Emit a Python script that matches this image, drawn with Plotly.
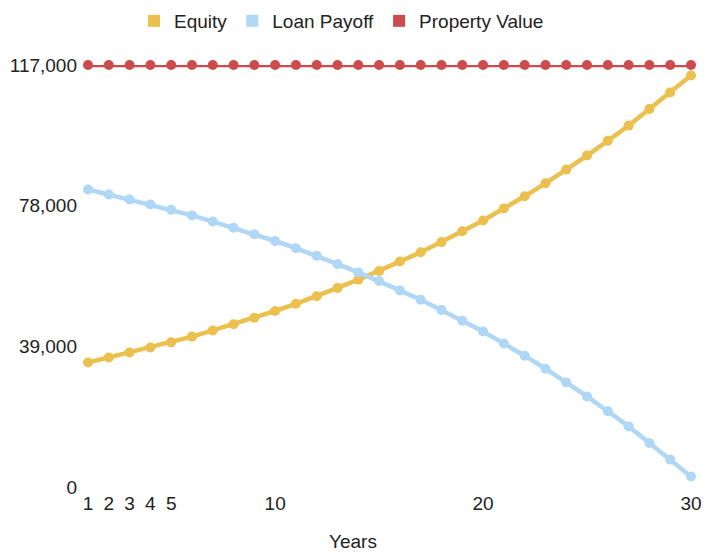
import plotly.graph_objects as go

years = list(range(1, 31))

loan_payoff = [82500, 81100, 79700, 78300, 76900, 75300, 73600, 71900, 70100, 68200,
               66200, 64100, 61800, 59500, 57100, 54500, 51900, 49100, 46100, 43100,
               39800, 36400, 32800, 29000, 25100, 21000, 16800, 12200, 7600, 2900]

equity = [34500, 35900, 37300, 38700, 40100, 41700, 43400, 45100, 46900, 48800,
          50800, 52900, 55200, 57500, 59900, 62500, 65100, 67900, 70900, 73900,
          77200, 80600, 84200, 88000, 91900, 96000, 100200, 104800, 109400, 114100]

property_value = [117000] * 30

x_tick_vals = [1, 2, 3, 4, 5, 10, 20, 30]
y_tick_vals = [0, 39000, 78000, 117000]
y_tick_text = ["0", "39,000", "78,000", "117,000"]

series = [
    ("Equity", equity, "#EBC04E"),
    ("Loan Payoff", loan_payoff, "#B0D7F5"),
    ("Property Value", property_value, "#CC4B4C"),
]

FONT = "Liberation Sans, Arial, sans-serif"
TEXT_SIZE = 19
TOP, BOTTOM, LEFT, RIGHT = 65, 487, 88, 691
PLOT_H = BOTTOM - TOP
PLOT_W = RIGHT - LEFT

fig = go.Figure()

# lines with dot markers
for name, vals, color in series:
    fig.add_trace(go.Scatter(
        x=years, y=vals, mode="lines+markers", name=name,
        line=dict(color=color, width=4.5),
        marker=dict(color=color, size=10),
        cliponaxis=False, showlegend=False,
    ))

# square swatches for the legend
for name, vals, color in series:
    fig.add_trace(go.Scatter(
        x=[None], y=[None], mode="markers", name=name,
        marker=dict(color=color, size=16, symbol="square"),
        showlegend=True,
    ))

fig.update_layout(
    width=717, height=553,
    margin=dict(l=LEFT, r=717 - RIGHT, t=TOP, b=553 - BOTTOM, autoexpand=False),
    plot_bgcolor="white", paper_bgcolor="white",
    font=dict(family=FONT, size=TEXT_SIZE, color="#222222"),
    legend=dict(
        orientation="h", x=(134 - LEFT) / PLOT_W, xanchor="left",
        y=1 + (TOP - 21) / PLOT_H, yanchor="middle",
        font=dict(size=TEXT_SIZE, color="#222222"),
        itemsizing="constant",
        bgcolor="rgba(0,0,0,0)",
    ),
    xaxis=dict(
        range=[1, 30], tickvals=x_tick_vals, showgrid=False, zeroline=False,
        showline=False, ticks="", tickfont=dict(size=TEXT_SIZE), ticklabelstandoff=3,
    ),
    yaxis=dict(
        range=[0, 117000], tickvals=y_tick_vals, ticktext=y_tick_text,
        showgrid=False, zeroline=False, showline=False, ticks="",
        tickfont=dict(size=TEXT_SIZE), ticklabelstandoff=10,
    ),
    annotations=[dict(
        text="Years", xref="paper", yref="paper",
        x=(353 - LEFT) / PLOT_W, y=-(541 - BOTTOM) / PLOT_H,
        xanchor="center", yanchor="middle", showarrow=False,
        font=dict(size=TEXT_SIZE, color="#222222"),
    )],
)

fig.write_html("out.html")
